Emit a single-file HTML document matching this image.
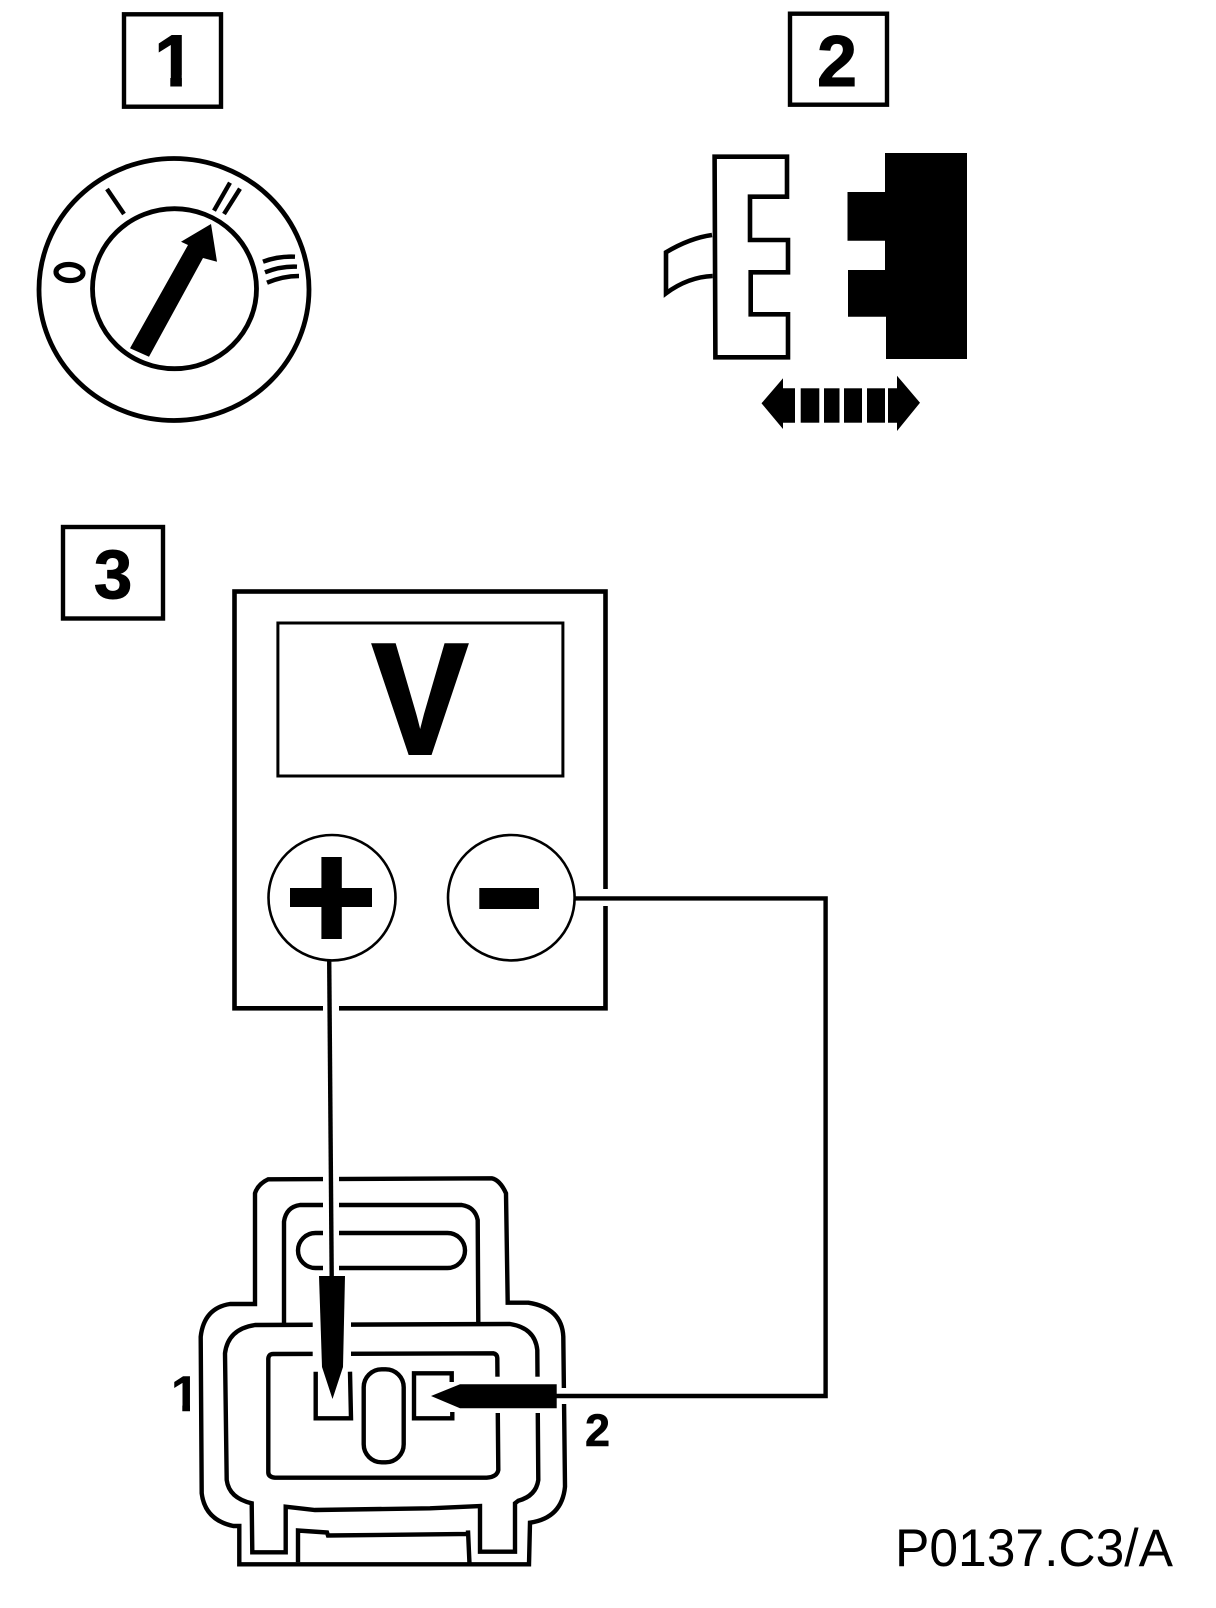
<!DOCTYPE html>
<html lang="en">
<head>
<meta charset="utf-8">
<title>P0137.C3/A</title>
<style>
html,body{margin:0;padding:0;background:#fff;width:1216px;height:1608px;overflow:hidden}
svg{display:block}
text{font-family:"Liberation Sans",sans-serif;fill:#000}
.b{font-weight:700;text-anchor:middle}
.l{fill:none;stroke:#000;stroke-width:4.4;stroke-linejoin:miter}
.t{fill:none;stroke:#000;stroke-width:4.4}
</style>
</head>
<body>
<svg xmlns="http://www.w3.org/2000/svg" width="1216" height="1608" viewBox="0 0 1216 1608">
<rect width="1216" height="1608" fill="#fff"/>

<!-- Box 1 -->
<rect class="l" x="124" y="14.3" width="97" height="92.4"/>
<text class="b" x="174.5" y="86" font-size="73" stroke="#000" stroke-width="1">1</text>
<rect x="148" y="75" width="22.3" height="14.5" fill="#fff"/>
<rect x="181.9" y="75" width="15" height="14.5" fill="#fff"/>

<!-- Dial -->
<ellipse class="l" cx="174" cy="289.5" rx="135" ry="131" style="stroke-width:4.8"/>
<ellipse class="l" cx="174.5" cy="288.7" rx="82" ry="80" style="stroke-width:4.8"/>
<polygon points="130,348.3 149,356.7 203,258 217,261.7 211,224 181,241.7 188,245"/>
<line x1="107" y1="189" x2="124" y2="214" class="t"/>
<line x1="230" y1="182.7" x2="214" y2="210.7" class="t"/>
<line x1="240" y1="188.7" x2="224" y2="214" class="t"/>
<path class="t" d="M263 261.7Q278 256 295 256.7"/>
<path class="t" d="M265 272.3Q281 266 297 266.7"/>
<path class="t" d="M267 282.7Q283 276 299 276"/>
<ellipse class="l" cx="69.5" cy="272.5" rx="13.5" ry="8" transform="rotate(3 69.5 272.5)" style="stroke-width:5.2"/>

<!-- Box 2 -->
<rect class="l" x="790" y="13.7" width="97" height="91"/>
<text class="b" x="837" y="86" font-size="72" stroke="#000" stroke-width="1">2</text>

<!-- Connector halves -->
<path class="l" style="stroke-width:4.6" d="M714.6 156.7H787V196.7H750V240H788V272.3H750.7V314.3H788V357.3H715.4Z"/>
<path class="l" style="stroke-width:4.6" d="M712 235Q690 238 666 252.3V293.3Q688 277 712.7 276"/>
<polygon points="885,153 967,153 967,359 886,359 886,316.7 848,316.7 848,270 885,270 885,240.7 847.5,240.7 847.5,192 885,192"/>

<!-- Double arrow -->
<polygon points="761.5,403.3 783,378.3 783,388.3 795,388.3 795,422.7 783,422.7 783,429"/>
<rect x="800.7" y="388.3" width="18.6" height="34.4"/>
<rect x="824" y="388.3" width="15.5" height="34.4"/>
<rect x="844" y="388.3" width="18" height="34.4"/>
<rect x="867" y="388.3" width="18" height="34.4"/>
<polygon points="888,388.3 897,388.3 897,375.7 920,402.7 897,431 897,422.7 888,422.7"/>

<!-- Box 3 -->
<rect class="l" x="63" y="527" width="100" height="91.5"/>
<text class="b" x="113" y="598" font-size="69" stroke="#000" stroke-width="1">3</text>

<!-- Meter -->
<rect class="l" x="234.5" y="591.5" width="371" height="416.8" style="stroke-width:4.6"/>
<rect x="602.5" y="889" width="6" height="17" fill="#fff"/>
<rect x="323" y="1004" width="16" height="8" fill="#fff"/>
<rect class="l" x="277.9" y="623" width="285" height="153" style="stroke-width:3"/>
<text class="b" transform="translate(420 753.5) scale(.91 1)" font-size="158" stroke="#000" stroke-width="3">V</text>
<ellipse class="l" cx="332" cy="897.7" rx="63.5" ry="62.7" style="stroke-width:2.6"/>
<ellipse class="l" cx="511.3" cy="897.7" rx="63.3" ry="62.7" style="stroke-width:2.6"/>
<rect x="290" y="888" width="82" height="19"/>
<rect x="321.4" y="857" width="20.4" height="82"/>
<rect x="479.3" y="888" width="59.7" height="21"/>

<!-- Connector -->
<path class="l" d="M268.3 1179.3L491.7 1178.3Q500 1180 506 1193.3L507.7 1302.7H528.3Q562 1308 563.3 1336.7L565 1486.7Q562 1518 530 1522.7L529 1564.3H239.3V1526H233.3Q205 1520 201.7 1493.3L200.7 1336.7Q204 1308 230 1304H255V1193.3Q258 1184 268.3 1179.3Z"/>
<path class="l" d="M284 1323.3V1221.7Q286 1207 300 1205H461.7Q475 1207 477.7 1220L478.3 1323.3"/>
<rect class="l" x="298" y="1233" width="167" height="35" rx="17.5"/>
<path class="l" d="M255 1325L510 1324Q535 1328 537.3 1350L538.3 1480Q536 1496 518.3 1500.7L515 1503.3V1551.7H480V1506L430 1508.3L315 1510L285.7 1506.7V1552.3H252.3L251.7 1503.3Q229 1498 226.7 1480L225 1353.3Q228 1329 255 1325Z"/>
<path class="l" d="M268.3 1360Q268 1354 273.3 1354L493.3 1353.3Q497 1354 497.3 1358L498.3 1470Q497 1477 486.7 1477.7H275Q268 1477 268.3 1471.7Z"/>
<path class="l" d="M315.7 1371.7V1418.3H351L350 1371.7"/>
<rect class="l" x="363.7" y="1369.3" width="40" height="93" rx="18"/>
<path class="l" d="M451.7 1382V1373.3H414V1418.3H452.3V1412"/>
<path class="l" d="M298 1562.3V1530.5L327 1532.5L328 1535.5L468 1534V1530.5L469.5 1564"/>

<!-- Halos around probes -->
<rect x="323" y="1172" width="16" height="104" fill="#fff"/>
<rect x="312.7" y="1318" width="38.3" height="46" fill="#fff"/>
<rect x="490" y="1376.7" width="56" height="36.3" fill="#fff"/>
<rect x="558" y="1388" width="12" height="16" fill="#fff"/>

<!-- Labels -->
<text class="b" x="185" y="1411" font-size="50" stroke="#000" stroke-width=".6">1</text>
<rect x="168" y="1403" width="14.3" height="10" fill="#fff"/>
<rect x="190" y="1403" width="8.1" height="10" fill="#fff"/>
<text class="b" x="597.5" y="1446" font-size="45" stroke="#000" stroke-width=".6">2</text>
<text x="895" y="1566" font-size="53" textLength="278" lengthAdjust="spacingAndGlyphs">P0137.C3/A</text>

<!-- Wires -->
<line class="l" x1="329.2" y1="960" x2="331.7" y2="1278"/>
<path class="l" d="M573.5 898.4H825.6V1396H555"/>
<polygon points="319,1276 345,1276 343,1367 332.5,1399 322,1367"/>
<polygon points="431,1396 460,1384.3 556.7,1384.3 556.7,1408.3 460,1408.3"/>
</svg>
</body>
</html>
